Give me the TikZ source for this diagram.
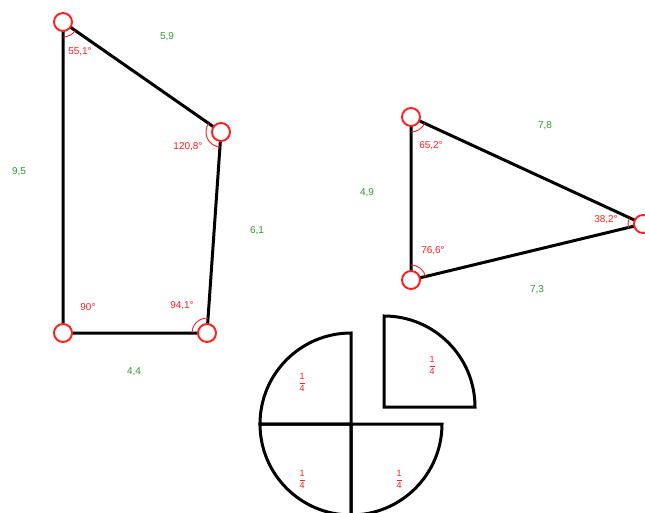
\documentclass[tikz,border=0pt]{standalone}
\usepackage{fontspec}
\setmainfont{Liberation Sans}
\definecolor{mred}{RGB}{255,30,30}
\definecolor{mgreen}{RGB}{50,150,50}
\tikzset{
  edge/.style={line width=3pt, black, line join=round},
  vert/.style={circle, draw=mred, line width=1.9pt, fill=white, minimum size=18pt, inner sep=0pt},
  ang/.style={draw=mred, line width=0.9pt},
  len/.style={text=mgreen, font=\fontsize{10}{12}\selectfont, inner sep=0pt},
  angl/.style={text=mred, font=\fontsize{10}{12}\selectfont, inner sep=0pt},
  frac/.style={text=mred, font=\fontsize{9}{10}\selectfont, inner sep=0pt},
  piece/.style={line width=3pt, black, line join=miter}
}
\begin{document}
\begin{tikzpicture}[x=1pt,y=-1pt]
\path[use as bounding box] (0,0) rectangle (645,513);
\clip (0,0) rectangle (645,513);
% quadrilateral
\coordinate (A) at (63,22);
\coordinate (B) at (221,132);
\coordinate (C) at (207,333);
\coordinate (D) at (63,333);
\draw[edge] (A) -- (B) -- (C) -- (D) -- cycle;
\draw[ang] (A) ++(34.8:15) arc[start angle=34.8, end angle=90, radius=15];
\draw[ang] (B) ++(94:15) arc[start angle=94, end angle=214.8, radius=15];
\draw[ang] (C) ++(180:15) arc[start angle=180, end angle=274, radius=15];
\draw[ang] (D) ++(7,0) -- ++(0,-7) -- ++(-7,0);
\node[vert] (vA) at (A) {};
\node[vert] (vB) at (B) {};
\node[vert] (vC) at (C) {};
\node[vert] (vD) at (D) {};
\node[len] (l59) at (167,37) {5,9};
\node[len] (l95) at (19,172) {9,5};
\node[len] (l61) at (257,231) {6,1};
\node[len] (l44) at (134,372) {4,4};
\node[angl] (a551) at (80,52) {55,1°};
\node[angl] (a1208) at (188,147) {120,8°};
\node[angl] (a90) at (88,307) {90°};
\node[angl] (a941) at (182,306) {94,1°};
% triangle
\coordinate (P) at (411,117);
\coordinate (Q) at (411,280);
\coordinate (R) at (643,224);
\draw[edge] (P) -- (R) -- (Q) -- cycle;
\draw[ang] (P) ++(24.8:15) arc[start angle=24.8, end angle=90, radius=15];
\draw[ang] (Q) ++(270:15) arc[start angle=270, end angle=346.4, radius=15];
\draw[ang] (R) ++(166.4:15) arc[start angle=166.4, end angle=204.8, radius=15];
\node[vert] (vP) at (P) {};
\node[vert] (vQ) at (Q) {};
\node[vert] (vR) at (R) {};
\node[len] (l78) at (545,126) {7,8};
\node[len] (l49) at (367,193) {4,9};
\node[len] (l73) at (537,290) {7,3};
\node[angl] (a652) at (431,146) {65,2°};
\node[angl] (a766) at (433,251) {76,6°};
\node[angl] (a382) at (606,220) {38,2°};
% pie
\coordinate (O) at (351,424);
\coordinate (O2) at (384,407);
\draw[piece] (O) -- (260,424) arc[start angle=180, end angle=270, radius=91] -- cycle;
\draw[piece] (O) -- (260,424) arc[start angle=180, end angle=90, radius=91] -- cycle;
\draw[piece] (O) -- (442,424) arc[start angle=0, end angle=90, radius=91] -- cycle;
\draw[piece] (O2) -- (475,407) arc[start angle=0, end angle=-90, radius=91] -- cycle;
\node[frac] (f1) at (302,382) {$\displaystyle\frac{\mbox{1}}{\mbox{4}}$};
\node[frac] (f2) at (432,365) {$\displaystyle\frac{\mbox{1}}{\mbox{4}}$};
\node[frac] (f3) at (302,479) {$\displaystyle\frac{\mbox{1}}{\mbox{4}}$};
\node[frac] (f4) at (399,479) {$\displaystyle\frac{\mbox{1}}{\mbox{4}}$};
\end{tikzpicture}
\end{document}
